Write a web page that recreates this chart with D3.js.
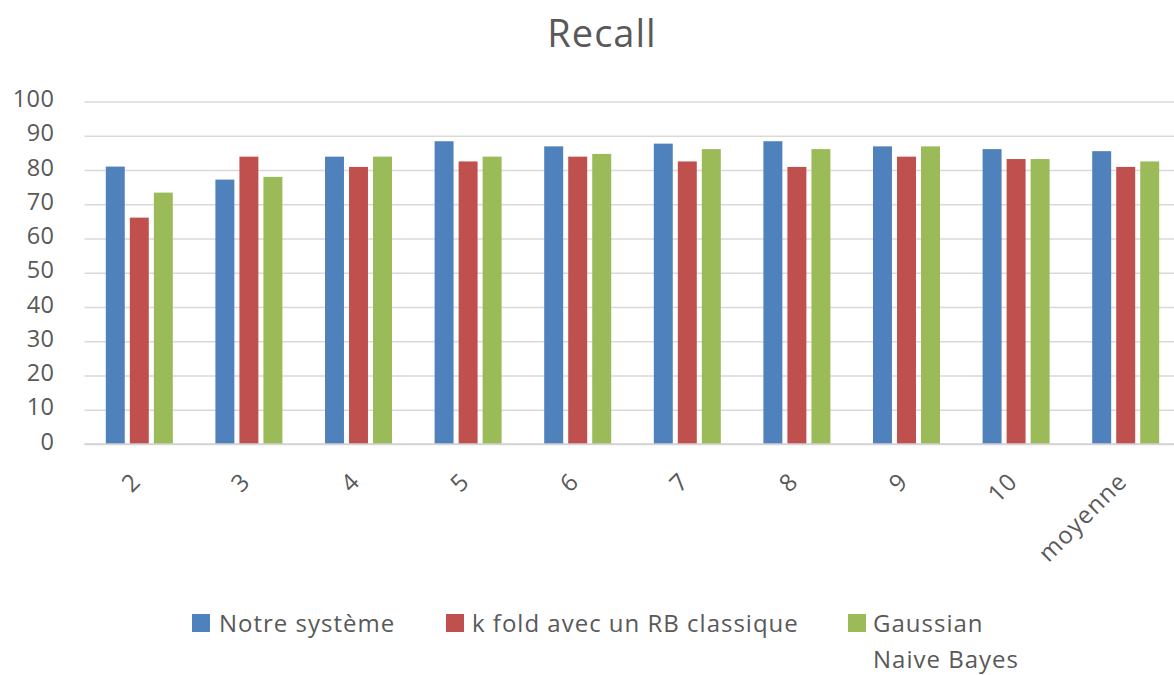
<!DOCTYPE html>
<html>
<head>
<meta charset="utf-8">
<script src="https://cdn.jsdelivr.net/npm/d3@7"></script>
<style>
  body { margin: 0; background: #fff; }
  text { font-family: "Open Sans", "Noto Sans", sans-serif; fill: #595959; }
</style>
</head>
<body>
<div id="chart"></div>
<script>
// data
const categories = ["2", "3", "4", "5", "6", "7", "8", "9", "10", "moyenne"];
const seriesNames = ["Notre système", "k fold avec un RB classique", "Gaussian Naive Bayes"];
const notreSysteme = [81, 77.2, 83.9, 88.4, 86.9, 87.7, 88.4, 86.9, 86.1, 85.5];
const kFoldRB = [66.1, 83.9, 80.9, 82.5, 83.9, 82.5, 80.9, 83.9, 83.2, 80.9];
const gaussianNB = [73.4, 78, 83.9, 83.9, 84.7, 86.1, 86.1, 86.9, 83.2, 82.5];
const yTicks = [0, 10, 20, 30, 40, 50, 60, 70, 80, 90, 100];

const colors = ["#4f81bd", "#c0504d", "#9bbb59"];
const values = [notreSysteme, kFoldRB, gaussianNB];

const width = 1174, height = 675;

const svg = d3.select("#chart").append("svg")
  .attr("width", width)
  .attr("height", height);

// *scales
const x = d3.scaleBand().domain(categories).range([84.5, 1180.5]).padding(0);
const x1 = d3.scaleBand().domain(d3.range(3)).range([-33.5, 33.5]).paddingInner(0.21);
const y = d3.scaleLinear().domain([0, 100]).range([444, 101.5]);

// *title
svg.append("text")
  .attr("x", 602)
  .attr("y", 47)
  .attr("text-anchor", "middle")
  .style("font-size", "38px")
  .style("letter-spacing", "1px")
  .text("Recall");

// *gridlines + y labels
const yAxis = svg.append("g")
  .attr("transform", "translate(84.5,0)")
  .call(d3.axisLeft(y).tickValues(yTicks).tickSize(-1100).tickPadding(30));
yAxis.select(".domain").remove();
yAxis.selectAll(".tick line").attr("stroke", "#d9d9d9").attr("stroke-width", 1.5);
yAxis.selectAll(".tick text")
  .attr("dy", "0.22em")
  .style("font-size", "23.5px")
  .style("letter-spacing", "0.5px")
  .style("fill", "#595959");

// *bars
categories.forEach((c, i) => {
  values.forEach((vals, s) => {
    svg.append("rect")
      .attr("x", x(c) + x.bandwidth() / 2 + x1(s))
      .attr("y", y(vals[i]))
      .attr("width", x1.bandwidth())
      .attr("height", y(0) - y(vals[i]))
      .attr("fill", colors[s]);
  });
});

// *x axis line
svg.append("line")
  .attr("x1", 84.5).attr("x2", width)
  .attr("y1", y(0)).attr("y2", y(0))
  .attr("stroke", "#d0d0d0").attr("stroke-width", 1.5);

// *x labels rotated
svg.selectAll(".xlab").data(categories).enter().append("text")
  .attr("class", "xlab")
  .attr("transform", (d) => `translate(${x(d) + x.bandwidth() / 2 - 3},${477}) rotate(-45)`)
  .attr("text-anchor", "end")
  .attr("dy", "0.35em")
  .style("font-size", "24px")
  .style("letter-spacing", "1.2px")
  .text((d) => d);

// *legend
const legendX = [192, 446, 848];
const legendTextX = [219, 472, 873];
const legend = svg.append("g");
seriesNames.forEach((name, s) => {
  legend.append("rect")
    .attr("x", legendX[s]).attr("y", 614)
    .attr("width", 18).attr("height", 18)
    .attr("fill", colors[s]);
  const t = legend.append("text")
    .attr("x", legendTextX[s])
    .attr("y", 632)
    .style("font-size", "24px")
    .style("letter-spacing", "1px");
  if (s === 2) {
    t.append("tspan").attr("x", legendTextX[s]).text("Gaussian");
    t.append("tspan").attr("x", legendTextX[s]).attr("dy", 36).text("Naive Bayes");
  } else {
    t.text(name);
  }
});
</script>
</body>
</html>
